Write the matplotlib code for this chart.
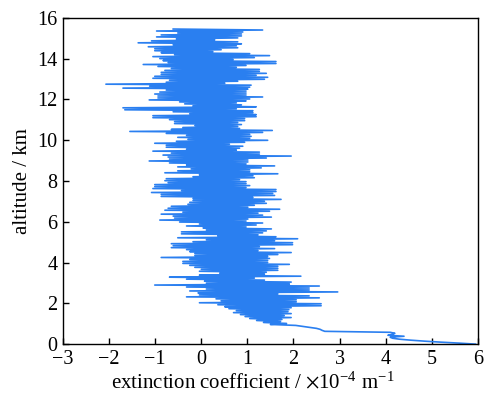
import numpy as np
import matplotlib
matplotlib.use("Agg")
import matplotlib.pyplot as plt

plt.rcParams['font.family'] = ['Liberation Serif', 'DejaVu Serif']
plt.rcParams['mathtext.fontset'] = 'stix'

# extinction coefficient (x10^-4 m^-1), read top (15.45 km) to bottom (0 km)
# pairs of left/right excursions per ~0.1 km
band_15_14 = [(-0.61, 1.33), (-0.97, 0.90), (-0.51, 0.87), (-0.87, 0.87), (-0.97, 0.79),
              (-0.54, 0.29), (-1.08, 0.79), (-1.37, 0.87), (-0.61, 0.76), (-1.15, 0.79),
              (-1.01, 0.43), (-1.01, 0.25), (-0.87, 1.05), (-0.58, 1.48), (-1.05, 1.15),
              (-0.90, 0.69), (-0.83, 1.62), (-0.72, 1.62), (-1.26, 0.97), (-0.94, 0.76),
              (-0.65, 1.26)]
band_13_12 = [(-0.79, 1.26), (-0.87, 1.41), (-0.87, 1.19), (-1.01, 1.44), (-1.05, 1.37),
              (-0.69, 0.79), (-0.76, 0.51), (-2.07, 1.08), (-1.12, 1.05), (-1.70, 1.01),
              (-0.76, 0.97), (-0.90, 0.97), (-1.01, 0.97), (-0.94, 1.33), (-0.94, 1.05),
              (-1.13, 0.97), (-0.47, 0.76), (-0.36, 0.87), (-0.18, 1.19), (-1.70, 0.76)]
band_11_10 = [(-1.66, 1.12), (-0.61, 1.12), (-0.25, 1.19), (-1.05, 1.19), (-1.05, 0.94),
              (-0.69, 0.94), (-0.58, 0.79), (-0.58, 0.87), (-0.14, 0.79), (-0.40, 0.83),
              (-0.65, 1.54), (-1.55, 1.33), (-0.76, 1.05), (-0.32, 1.08), (-0.51, 1.05),
              (-0.29, 1.44), (-0.54, 0.94), (-1.01, 0.61), (-0.76, 0.90), (-0.76, 0.83),
              (-0.32, 0.76)]
band_9_8 = [(-1.05, 1.26), (-0.65, 1.26), (-0.83, 1.95), (-0.72, 1.41), (-0.69, 1.01),
            (-1.13, 1.01), (-0.69, 0.97), (-0.32, 1.59), (-0.51, 1.30), (-0.22, 1.05),
            (-0.51, 1.05), (-0.79, 1.66), (-0.04, 1.12), (-0.18, 1.15), (-0.76, 0.83),
            (-0.79, 0.97), (-0.72, 0.97), (-1.01, 1.05), (-1.01, 0.97), (-1.05, 1.62)]
band_7_6 = [(-0.43, 1.62), (-1.08, 1.55), (-0.87, 1.59), (-0.87, 1.12), (-0.18, 1.73),
            (-0.18, 1.37), (-0.25, 1.41), (-0.29, 1.15), (-0.65, 1.01), (-0.72, 1.70),
            (-0.79, 1.48), (-0.40, 1.23), (-0.87, 1.33), (-0.61, 1.52), (-0.58, 1.01),
            (-0.90, 0.97), (-0.47, 1.33), (-0.04, 1.19), (-0.32, 0.97), (0.04, 1.52)]
band_5_4 = [(0.11, 1.41), (-0.43, 1.33), (-0.43, 1.23), (0.36, 1.62), (-0.51, 2.09),
            (0.11, 1.59), (-0.18, 1.98), (-0.65, 1.98), (-0.61, 1.26), (-0.65, 1.59),
            (-0.32, 1.23), (-0.25, 1.95), (-0.14, 1.66), (-0.14, 1.44), (-0.87, 1.48),
            (-0.25, 1.44), (-0.40, 1.44), (-0.40, 1.91), (-0.25, 1.66), (-0.14, 1.66)]
band_3_2 = [(0.00, 1.66), (-0.04, 1.41), (0.40, 1.37), (-0.04, 2.16), (-0.69, 1.15),
            (-0.32, 1.37), (0.07, 1.95), (0.11, 1.91), (-1.01, 2.56), (-0.32, 2.34),
            (0.11, 2.34), (-0.25, 2.96), (-0.07, 1.66), (-0.04, 2.34), (-0.32, 2.56),
            (0.32, 2.06), (0.43, 2.06), (-0.04, 2.60), (0.36, 2.60), (0.51, 1.95)]
band_1_0 = [(0.60, 1.90), (0.76, 1.88), (0.70, 1.95), (0.85, 1.80), (0.95, 1.95),
            (1.05, 1.75), (1.20, 1.72), (1.35, 1.85), (1.50, 2.05)]
surface = [2.20, 2.35, 2.50, 2.58, 2.62, 2.68, 4.10, 4.20, 4.15, 4.05, 4.40, 4.10,
           4.15, 4.30, 4.55, 4.85, 5.20, 5.60, 5.95]

alt_top, alt_bottom = 15.45, 0.0

vals_top_down = []
for band in [band_15_14, band_13_12, band_11_10, band_9_8, band_7_6, band_5_4, band_3_2, band_1_0]:
    for a, b in band:
        vals_top_down.extend([a, b])
vals_top_down.extend(surface)
ext = np.array(vals_top_down[::-1])
alt = np.linspace(alt_bottom, alt_top, len(ext))

fig = plt.figure(figsize=(4.89, 3.96), dpi=100)
ax = fig.add_axes([0.129, 0.131, 0.848, 0.824])
ax.plot(ext, alt, color='#2a7ff0', lw=1.2)
ax.set_xlim(-3, 6)
ax.set_ylim(0, 16)
ax.set_xticks(range(-3, 7))
ax.set_xticklabels(['\u22123', '\u22122', '\u22121', '0', '1', '2', '3', '4', '5', '6'])
ax.set_yticks(range(0, 17, 2))
ax.tick_params(direction='in', length=4, width=1, labelsize=14.5, top=False, right=False)
ax.tick_params(axis='y', pad=4)
ax.tick_params(axis='x', pad=4)
for s in ax.spines.values():
    s.set_linewidth(1.0)
ax.set_xlabel(r'extinction coefficient / $\times$10$^{\mathregular{-4}}$ m$^{\mathregular{-1}}$', fontsize=15)
ax.xaxis.set_label_coords(0.457, -0.085)
ax.set_ylabel('altitude / km', fontsize=15, labelpad=4)
fig.savefig('out.png', dpi=100)
